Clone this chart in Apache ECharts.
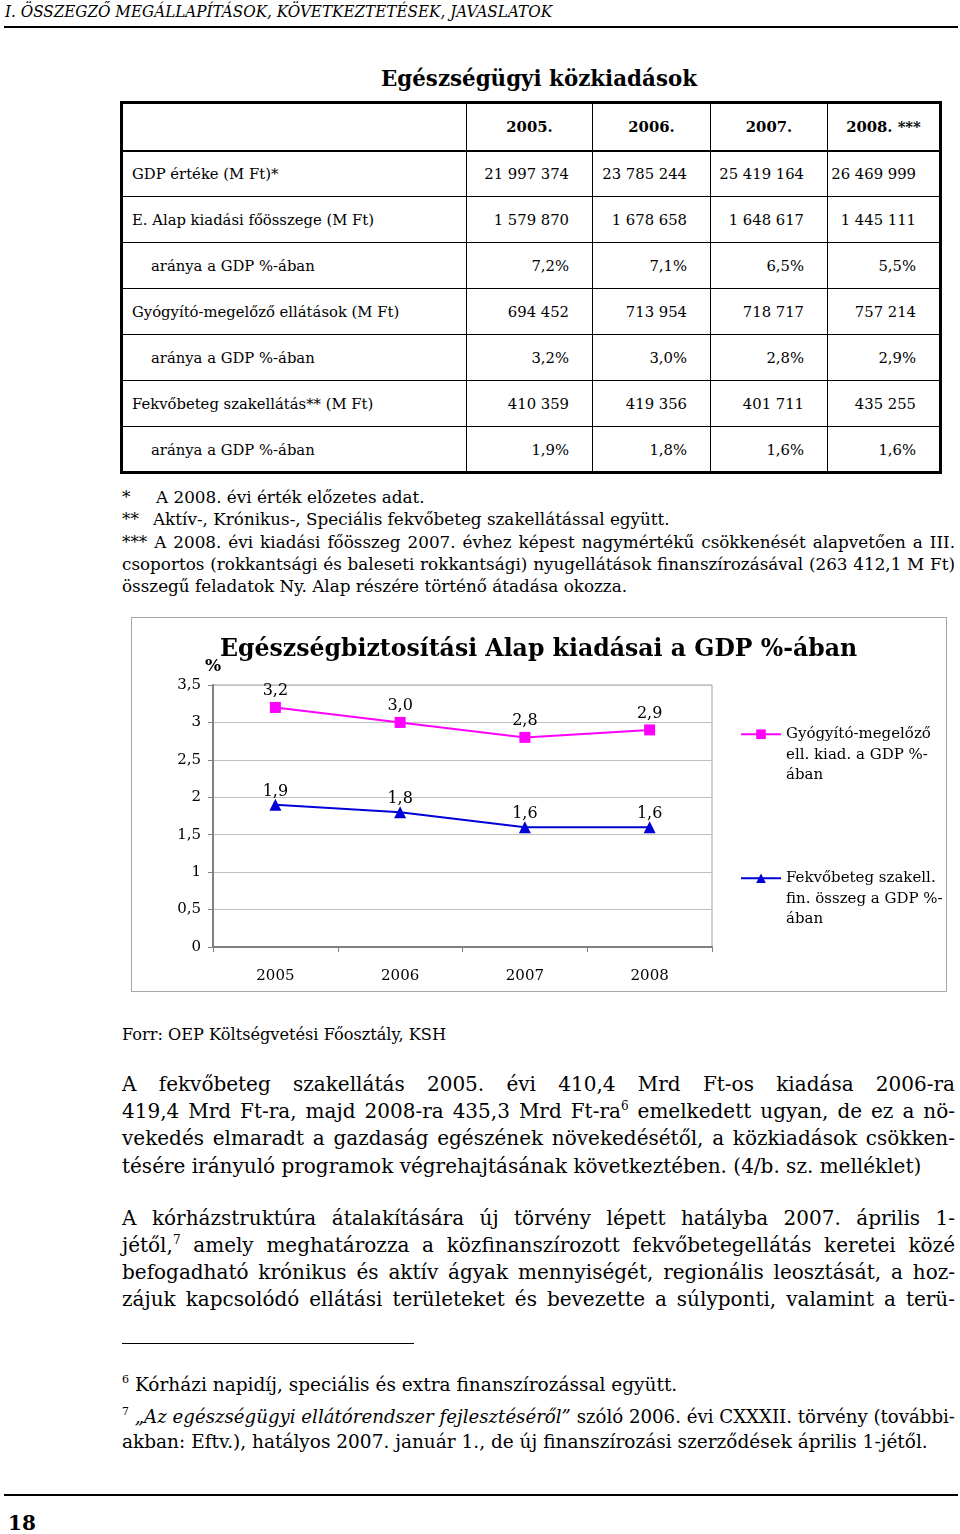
<!DOCTYPE html>
<html>
<head>
<meta charset="utf-8">
<script src="https://cdn.jsdelivr.net/npm/echarts@6/dist/echarts.min.js"></script>
<style>
  html, body { margin: 0; padding: 0; background: #fff; }
  body { width: 960px; height: 1534px; position: relative; overflow: hidden; font-family: 'DejaVu Serif', serif; color: #000; }
  .ln { position: absolute; white-space: nowrap; transform-origin: 0 50%; }
  .rule { position: absolute; background: #000; }
  table.data { position: absolute; left: 120px; top: 101px; width: 819px; table-layout: fixed; border-collapse: collapse; border: 3px solid #000; font-size: 14.8px; }
  table.data td { border: 1px solid #000; height: 46px; padding: 0; box-sizing: border-box; white-space: nowrap; }
  table.data tr.head td { height: 48px; font-weight: bold; border-bottom: 2px solid #000; text-align: center; }
  table.data td.lab { padding-left: 9px; text-align: left; }
  table.data td.lab.sub { padding-left: 28px; }
  table.data td.num { padding-right: 23px; text-align: right; }
  .chart-box { position: absolute; left: 131px; top: 617px; width: 814px; height: 373px; border: 1px solid #a8a8a8; pointer-events: none; }
  #chart { position: absolute; left: 131px; top: 617px; width: 816px; height: 375px; }
  sup { font-size: 0.6em; line-height: 0; vertical-align: 0.7em; }
  .fn { font-size: 16.8px; line-height: 22px; }
  .body { font-size: 20px; line-height: 28px; }
  .foot { font-size: 18.5px; line-height: 26px; }
</style>
</head>
<body>

<div class="ln" style="left:5px;top:2px;font-size:16px;line-height:20px;font-style:italic" data-w="547" data-fit="1">I. ÖSSZEGZŐ MEGÁLLAPÍTÁSOK, KÖVETKEZTETÉSEK, JAVASLATOK</div>
<div class="rule" style="left:4px;top:26px;width:954px;height:2px"></div>

<div class="ln" style="left:381px;top:64px;font-size:22px;line-height:28px;font-weight:bold" data-w="316" data-fit="1">Egészségügyi közkiadások</div>

<table class="data" id="tbl"></table>

<div class="ln fn" style="left:122px;top:486px">*</div>
<div class="ln fn" style="left:156px;top:486px">A 2008. évi érték előzetes adat.</div>
<div class="ln fn" style="left:122px;top:508px">**</div>
<div class="ln fn" style="left:153px;top:508px">Aktív-, Krónikus-, Speciális fekvőbeteg szakellátással együtt.</div>
<div class="ln fn" style="left:122px;top:531px" data-w="833" data-j="1">*** A 2008. évi kiadási főösszeg 2007. évhez képest nagymértékű csökkenését alapvetően a III.</div>
<div class="ln fn" style="left:122px;top:553px" data-w="833" data-j="1">csoportos (rokkantsági és baleseti rokkantsági) nyugellátások finanszírozásával (263 412,1 M Ft)</div>
<div class="ln fn" style="left:122px;top:575px" data-w="506">összegű feladatok Ny. Alap részére történő átadása okozza.</div>

<div id="chart"></div>
<div class="chart-box"></div>

<div class="ln" style="left:122px;top:1024px;font-size:16.2px;line-height:22px" data-w="324">Forr: OEP Költségvetési Főosztály, KSH</div>

<div class="ln body" style="left:122px;top:1070px" data-w="833" data-j="1">A fekvőbeteg szakellátás 2005. évi 410,4 Mrd Ft-os kiadása 2006-ra</div>
<div class="ln body" style="left:122px;top:1097px" data-w="833" data-j="1">419,4 Mrd Ft-ra, majd 2008-ra 435,3 Mrd Ft-ra<sup>6</sup> emelkedett ugyan, de ez a nö-</div>
<div class="ln body" style="left:122px;top:1124px" data-w="833" data-j="1">vekedés elmaradt a gazdaság egészének növekedésétől, a közkiadások csökken-</div>
<div class="ln body" style="left:122px;top:1152px" data-w="817">tésére irányuló programok végrehajtásának következtében. (4/b. sz. melléklet)</div>

<div class="ln body" style="left:122px;top:1204px" data-w="833" data-j="1">A kórházstruktúra átalakítására új törvény lépett hatályba 2007. április 1-</div>
<div class="ln body" style="left:122px;top:1231px" data-w="833" data-j="1">jétől,<sup>7</sup> amely meghatározza a közfinanszírozott fekvőbetegellátás keretei közé</div>
<div class="ln body" style="left:122px;top:1258px" data-w="833" data-j="1">befogadható krónikus és aktív ágyak mennyiségét, regionális leosztását, a hoz-</div>
<div class="ln body" style="left:122px;top:1285px" data-w="833" data-j="1">zájuk kapcsolódó ellátási területeket és bevezette a súlyponti, valamint a terü-</div>

<div class="rule" style="left:122px;top:1343px;width:292px;height:1px"></div>

<div class="ln foot" style="left:122px;top:1372px" data-w="560"><sup>6</sup> Kórházi napidíj, speciális és extra finanszírozással együtt.</div>
<div class="ln foot" style="left:122px;top:1404px" data-w="833" data-j="1"><sup>7</sup> <i>„Az egészségügyi ellátórendszer fejlesztéséről”</i> szóló 2006. évi CXXXII. törvény (további-</div>
<div class="ln foot" style="left:122px;top:1429px" data-w="813">akban: Eftv.), hatályos 2007. január 1., de új finanszírozási szerződések április 1-jétől.</div>

<div class="rule" style="left:4px;top:1494px;width:954px;height:2px"></div>
<div class="ln" style="left:8px;top:1510px;font-size:20px;line-height:26px;font-weight:bold">18</div>

<script>
// táblázat adatai
const tableYears = ['2005.', '2006.', '2007.', '2008. ***']
const tableLabels = [
  'GDP értéke (M Ft)*',
  'E. Alap kiadási főösszege (M Ft)',
  'aránya a GDP %-ában',
  'Gyógyító-megelőző ellátások (M Ft)',
  'aránya a GDP %-ában',
  'Fekvőbeteg szakellátás** (M Ft)',
  'aránya a GDP %-ában'
]
const gdpValues = ['21 997 374', '23 785 244', '25 419 164', '26 469 999']
const alapTotal = ['1 579 870', '1 678 658', '1 648 617', '1 445 111']
const alapPct = ['7,2%', '7,1%', '6,5%', '5,5%']
const gyogyitoTotal = ['694 452', '713 954', '718 717', '757 214']
const gyogyitoPctText = ['3,2%', '3,0%', '2,8%', '2,9%']
const fekvoTotal = ['410 359', '419 356', '401 711', '435 255']
const fekvoPctText = ['1,9%', '1,8%', '1,6%', '1,6%']

// diagram adatai
const years = ['2005', '2006', '2007', '2008']
const gyogyitoPct = [3.2, 3.0, 2.8, 2.9]
const fekvoPct = [1.9, 1.8, 1.6, 1.6]
const seriesNames = [
  'Gyógyító-megelőző\nell. kiad. a GDP %-\nában',
  'Fekvőbeteg szakell.\nfin. összeg a GDP %-\nában'
]
const yMin = 0
const yMax = 3.5
const yStep = 0.5

// táblázat felépítése
const tbl = document.getElementById('tbl')
const colW = [345, 126, 118, 117, 113]
const rows = [gdpValues, alapTotal, alapPct, gyogyitoTotal, gyogyitoPctText, fekvoTotal, fekvoPctText]
let html = '<colgroup>' + colW.map(w => '<col style="width:' + w + 'px">').join('') + '</colgroup>'
html += '<tr class="head"><td></td>'
tableYears.forEach(y => { html += '<td>' + y + '</td>' })
html += '</tr>'
rows.forEach((vals, r) => {
  const sub = tableLabels[r].startsWith('aránya') ? ' sub' : ''
  html += '<tr><td class="lab' + sub + '">' + tableLabels[r] + '</td>'
  vals.forEach(v => { html += '<td class="num">' + v + '</td>' })
  html += '</tr>'
})
tbl.innerHTML = html

// sorok igazítása a megadott szélességre
document.querySelectorAll('[data-w]').forEach(el => {
  const w = +el.dataset.w
  const nat = el.getBoundingClientRect().width
  if (el.dataset.j) {
    const n = (el.textContent.match(/ /g) || []).length
    if (nat < w && n) {
      el.style.wordSpacing = ((w - nat) / n) + 'px'
      return
    }
  }
  if (el.dataset.fit || nat > w) {
    el.style.transform = 'scaleX(' + (w / nat) + ')'
  }
})

const comma = v => String(v).replace('.', ',')
const oneDec = v => v.toFixed(1).replace('.', ',')

const chart = echarts.init(document.getElementById('chart'))

// a jelmagyarázat ikonja az első szövegsorhoz igazodik
const legendCommon = {
  left: 609,
  orient: 'vertical',
  padding: 0,
  itemWidth: 40,
  itemHeight: 12,
  formatter: name => '\n\n' + name,
  textStyle: {
    fontFamily: 'DejaVu Serif',
    fontSize: 15,
    lineHeight: 20.5,
    color: '#000'
  }
}

const option = {
  animation: false,
  backgroundColor: '#fff',
  textStyle: { fontFamily: 'DejaVu Serif' },
  title: {
    text: 'Egészségbiztosítási Alap kiadásai a GDP %-ában',
    left: 89,
    top: 21,
    padding: 0,
    textStyle: {
      fontFamily: 'DejaVu Serif',
      fontWeight: 'bold',
      fontSize: 23.6,
      color: '#000'
    }
  },
  legend: [
    Object.assign({ top: 66, data: [seriesNames[0]] }, legendCommon),
    Object.assign({ top: 210, data: [seriesNames[1]] }, legendCommon)
  ],
  grid: {
    left: 82,
    right: 235,
    top: 68,
    bottom: 45,
    show: true,
    borderColor: '#a0a0a0',
    borderWidth: 1,
    outerBoundsMode: 'none'
  },
  xAxis: {
    type: 'category',
    data: years,
    boundaryGap: true,
    axisLine: { show: true, lineStyle: { color: '#808080', width: 2 } },
    axisTick: { show: true, length: 5, lineStyle: { color: '#808080' } },
    axisLabel: { color: '#000', fontSize: 15, margin: 22 },
    splitLine: { show: false }
  },
  yAxis: {
    type: 'value',
    min: yMin,
    max: yMax,
    interval: yStep,
    name: '%',
    nameLocation: 'end',
    nameGap: 10,
    nameTextStyle: { fontWeight: 'bold', fontSize: 17, color: '#000', align: 'center' },
    axisLine: { show: true, lineStyle: { color: '#808080', width: 2 } },
    axisTick: { show: true, length: 5, lineStyle: { color: '#808080' } },
    axisLabel: { color: '#000', fontSize: 15, margin: 12, formatter: comma },
    splitLine: { show: true, lineStyle: { color: '#c0c0c0', width: 1 } }
  },
  series: [
    {
      name: seriesNames[0],
      type: 'line',
      data: gyogyitoPct,
      color: '#ff00ff',
      symbol: 'rect',
      symbolSize: 11,
      lineStyle: { width: 2 },
      label: {
        show: true,
        position: 'top',
        distance: 3,
        color: '#000',
        fontSize: 16,
        formatter: p => oneDec(p.value)
      }
    },
    {
      name: seriesNames[1],
      type: 'line',
      data: fekvoPct,
      color: '#0000d8',
      symbol: 'triangle',
      symbolSize: 12,
      lineStyle: { width: 2 },
      label: {
        show: true,
        position: 'top',
        distance: -1,
        color: '#000',
        fontSize: 16,
        formatter: p => oneDec(p.value)
      }
    }
  ]
}

chart.setOption(option)
</script>
</body>
</html>
